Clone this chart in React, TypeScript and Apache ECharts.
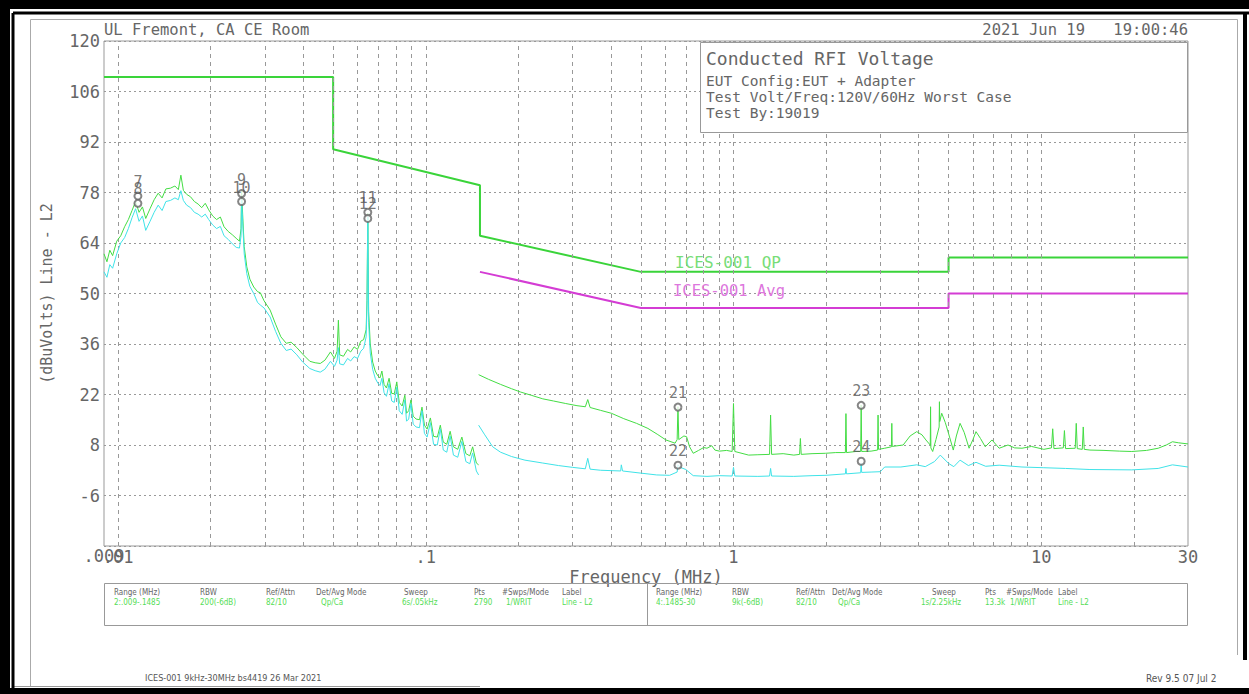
import React, { useEffect, useRef } from "react";
import * as echarts from "echarts";

// ---------- DATA ----------
const xTickFreqs = [0.009, 0.01, 0.1, 1, 10, 30];
const yTicks = [-20, -6, 8, 22, 36, 50, 64, 78, 92, 106, 120];
const gridFreqs = [
  0.01, 0.02, 0.03, 0.04, 0.05, 0.06, 0.07, 0.08, 0.09,
  0.1, 0.2, 0.3, 0.4, 0.5, 0.6, 0.7, 0.8, 0.9,
  1, 2, 3, 4, 5, 6, 7, 8, 9,
  10, 20,
];

const qpLimit: [number, number][] = [
  [0.009, 110], [0.05, 110], [0.05, 90], [0.15, 80], [0.15, 66],
  [0.5, 56], [5, 56], [5, 60], [30, 60],
];
const avgLimit: [number, number][] = [
  [0.15, 56], [0.5, 46], [5, 46], [5, 50], [30, 50],
];

const qpTrace1: [number, number][] = [
  [0.009, 61], [0.0092, 58.8], [0.0094, 62], [0.0096, 60.5], [0.0099, 64.5], [0.0102, 66],
  [0.0105, 68.5], [0.0108, 70.5], [0.0111, 73], [0.0114, 75.5], [0.0117, 72.5], [0.012, 74],
  [0.0123, 70.8], [0.0127, 73.5], [0.0131, 76], [0.0135, 77.8], [0.0139, 76.5], [0.0143, 79],
  [0.0148, 79.2], [0.0153, 79.8], [0.0157, 78.8], [0.016, 82.8], [0.0163, 78.6], [0.0167, 77.5],
  [0.0172, 76.8], [0.0177, 75.5], [0.0182, 74.8], [0.0187, 73.8], [0.0192, 75], [0.0197, 73.2],
  [0.0203, 71.5], [0.0209, 70.5], [0.0215, 71.2], [0.0221, 68.5], [0.0228, 67.2], [0.0235, 66.3],
  [0.0242, 65.3], [0.0248, 64.5], [0.0251, 68], [0.0252, 78.6], [0.0254, 72], [0.0257, 63],
  [0.0262, 57.4], [0.0268, 54], [0.0276, 51.8], [0.0284, 50.5], [0.029, 50.2], [0.0298, 48],
  [0.0312, 45.4], [0.0325, 41.5], [0.0338, 38], [0.0352, 36.2], [0.0365, 36.5], [0.0381, 35],
  [0.0398, 33.2], [0.042, 31.2], [0.0437, 30.8], [0.0454, 30.6], [0.047, 31.5], [0.049, 33.8],
  [0.0505, 32], [0.0515, 34], [0.052, 42.6], [0.0525, 33], [0.054, 32.6], [0.0557, 34.5],
  [0.057, 33.8], [0.0585, 35.2], [0.06, 34.5], [0.0615, 36.8], [0.0628, 37.2], [0.064, 40],
  [0.0644, 48], [0.0648, 72.3], [0.0652, 45], [0.066, 36], [0.0672, 31], [0.0685, 28.5],
  [0.0698, 27.2], [0.071, 26.6], [0.072, 28.5], [0.0732, 24.8], [0.0745, 23.8], [0.076, 26.5],
  [0.0775, 22.3], [0.079, 22.2], [0.0805, 25.5], [0.082, 19.8], [0.0838, 18.8], [0.0855, 21.8],
  [0.0866, 16.8], [0.088, 17.5], [0.0895, 20.5], [0.091, 16], [0.093, 15.2], [0.0954, 15],
  [0.0972, 18.5], [0.099, 13.5], [0.101, 12.4], [0.1035, 15.5], [0.106, 10.4], [0.109, 10.2],
  [0.1115, 13.5], [0.114, 8.8], [0.117, 8.2], [0.12, 11.8], [0.123, 7.5], [0.127, 6.8],
  [0.131, 10.2], [0.135, 5.6], [0.139, 5], [0.142, 7.5], [0.146, 3], [0.1485, 2.5],
];

const caTrace1: [number, number][] = [
  [0.009, 56], [0.0092, 54.5], [0.0094, 58], [0.0096, 57], [0.0099, 61], [0.0102, 64],
  [0.0105, 65.5], [0.0108, 68], [0.0111, 71], [0.0114, 73.5], [0.0117, 70], [0.012, 71.5],
  [0.0123, 67.5], [0.0127, 70], [0.0131, 72.5], [0.0135, 74.5], [0.0139, 73], [0.0143, 75.5],
  [0.0148, 75.8], [0.0153, 76.5], [0.0157, 76], [0.016, 78.5], [0.0163, 75.8], [0.0167, 74.5],
  [0.0172, 73.8], [0.0177, 72.5], [0.0182, 72], [0.0187, 71.2], [0.0192, 72], [0.0197, 70.5],
  [0.0203, 69], [0.0209, 68], [0.0215, 68.6], [0.0221, 66], [0.0228, 65], [0.0235, 63.8],
  [0.0242, 62.8], [0.0248, 62.6], [0.0251, 66], [0.0252, 76], [0.0254, 70], [0.0257, 61],
  [0.0262, 55.5], [0.0268, 52], [0.0276, 50], [0.0284, 47.5], [0.029, 46.8], [0.0298, 46],
  [0.0312, 43.5], [0.0325, 39.5], [0.0338, 36.2], [0.0352, 34.2], [0.0365, 34.6], [0.0381, 33],
  [0.0398, 31], [0.042, 29.2], [0.0437, 28.6], [0.0454, 28.2], [0.047, 29], [0.049, 31.2],
  [0.0505, 29.8], [0.0515, 31.5], [0.052, 35], [0.0525, 30.5], [0.054, 30.2], [0.0557, 32],
  [0.057, 31.3], [0.0585, 32.5], [0.06, 32], [0.0615, 34], [0.0628, 34.8], [0.064, 38],
  [0.0644, 46], [0.0648, 71.5], [0.0652, 42], [0.066, 33.5], [0.0672, 29], [0.0685, 26.5],
  [0.0698, 25.2], [0.071, 24.5], [0.072, 26.5], [0.0732, 22.5], [0.0745, 21.5], [0.076, 25],
  [0.0775, 20.2], [0.079, 19.8], [0.0805, 24], [0.082, 17.5], [0.0838, 16.5], [0.0855, 20.5],
  [0.0866, 14.6], [0.088, 15.2], [0.0895, 19.5], [0.091, 13.8], [0.093, 13], [0.0954, 12.8],
  [0.0972, 17.5], [0.099, 11.2], [0.101, 10.2], [0.1035, 14.2], [0.106, 8.2], [0.109, 8],
  [0.1115, 12.5], [0.114, 6.6], [0.117, 6], [0.12, 10.5], [0.123, 5.2], [0.127, 4.6],
  [0.131, 9], [0.135, 3.4], [0.139, 2.8], [0.142, 5.8], [0.146, 0.8], [0.1485, -0.3],
];

const qpTrace2: [number, number][] = [
  [0.1485, 27.5], [0.16, 26.2], [0.175, 24.8], [0.19, 23.6], [0.203, 22.7], [0.22, 21.8],
  [0.24, 20.8], [0.26, 20.2], [0.285, 19.5], [0.31, 18.9], [0.33, 18.6], [0.336, 20.6],
  [0.342, 18.4], [0.37, 17.6], [0.401, 16.8], [0.44, 15.3], [0.484, 14], [0.527, 12.6],
  [0.565, 11], [0.603, 9.4], [0.646, 8.5], [0.656, 9.5], [0.66, 18.6], [0.664, 9.5],
  [0.69, 10.5], [0.704, 10.3], [0.72, 7.5], [0.74, 5.7], [0.77, 6.5], [0.8, 7.3],
  [0.82, 7.1], [0.85, 7.8], [0.87, 6.6], [0.9, 6.3], [0.95, 6.5], [0.99, 6.2],
  [1.0, 19.5], [1.01, 6.2], [1.12, 5.2], [1.2, 5.3], [1.31, 5.4], [1.32, 16.3],
  [1.33, 5.4], [1.45, 5.6], [1.57, 5.2], [1.64, 5.4], [1.65, 9.8], [1.66, 5.4],
  [1.8, 5.6], [1.99, 5.7], [2.15, 5.9], [2.31, 5.9], [2.32, 16.7], [2.33, 5.9],
  [2.5, 6.2], [2.59, 6.2], [2.6, 19.1], [2.61, 6.2], [2.8, 6.3], [2.94, 6.6],
  [2.95, 16.3], [2.96, 6.8], [3.1, 7.1], [3.26, 7.5], [3.27, 14], [3.28, 7.6],
  [3.56, 8], [3.75, 10.5], [3.94, 11.7], [4.1, 10.8], [4.22, 9.4], [4.36, 8],
  [4.37, 18.6], [4.38, 7.2], [4.44, 6.2], [4.55, 9.5], [4.66, 13], [4.67, 20],
  [4.68, 14.5], [4.75, 16.8], [4.88, 14.2], [5.0, 11.2], [5.18, 6.6], [5.3, 10.5],
  [5.45, 14], [5.62, 11.5], [5.83, 7.1], [6.0, 9.5], [6.14, 11.7], [6.35, 9.8],
  [6.58, 7.5], [6.92, 9.4], [7.3, 7.1], [7.8, 8], [8.2, 7.2], [8.66, 7.1],
  [9.3, 7.6], [10.2, 6.8], [10.8, 7.2], [10.9, 12.5], [11.0, 7], [11.8, 7.2],
  [11.9, 12], [12, 7], [12.9, 7.1], [13, 14], [13.1, 7], [13.6, 6.8],
  [13.7, 13], [13.8, 6.8], [14.4, 6.6], [16, 6.5], [18, 6.3], [19.7, 6.2],
  [22, 6.5], [24.0, 7.1], [25.5, 8], [26.7, 8.9], [28, 8.6], [30, 8.3],
];

const caTrace2: [number, number][] = [
  [0.1485, 13.5], [0.155, 11], [0.165, 7.5], [0.175, 6], [0.19, 4.8], [0.21, 3.8],
  [0.24, 3], [0.27, 2.3], [0.3, 1.8], [0.33, 1.4], [0.336, 4.3], [0.342, 1.3],
  [0.37, 1], [0.43, 0.8], [0.432, 2.5], [0.436, 0.8], [0.5, 0.2], [0.563, -0.3],
  [0.62, -0.4], [0.656, 0.5], [0.66, 2.5], [0.672, 1.8], [0.7, 1.2], [0.74, -0.5],
  [0.82, -0.7], [0.9, -0.5], [0.99, -0.6], [1.0, 1.8], [1.01, -0.6], [1.2, -0.7],
  [1.31, -0.6], [1.32, 1.5], [1.33, -0.6], [1.57, -0.7], [1.8, -0.5], [2.0, -0.4],
  [2.31, 0], [2.32, 1.5], [2.33, 0], [2.59, 0.3], [2.6, 3], [2.61, 0.4],
  [2.8, 0.5], [3.0, 0.6], [3.1, 1.9], [3.5, 1.9], [3.94, 2.5], [4.2, 2.0],
  [4.5, 3.4], [4.7, 5.2], [5.0, 2.9], [5.2, 2], [5.45, 3.8], [5.8, 2.3],
  [6.14, 3.2], [6.6, 2.1], [7.3, 2.4], [8.66, 1.9], [10.2, 1.7], [12, 1.5],
  [14.4, 1.2], [19.7, 1.1], [24, 1.5], [26.7, 2.5], [30, 1.9],
];

const markerNames = ["7", "8", "9", "10", "11", "12", "21", "22", "23", "24"];
const markerFreqs = [0.0116, 0.0116, 0.0252, 0.0252, 0.0648, 0.0648, 0.66, 0.66, 2.6, 2.6];
const markerVals = [77, 75, 77.7, 75.5, 72.5, 70.8, 18.5, 2.4, 19, 3.5];

const headerLeft = "UL Fremont, CA CE Room";
const headerDate = "2021 Jun 19";
const headerTime = "19:00:46";
const infoTitle = "Conducted RFI Voltage";
const infoLines = ["EUT Config:EUT + Adapter", "Test Volt/Freq:120V/60Hz Worst Case", "Test By:19019"];
const tableHeads = ["Range (MHz)", "RBW", "Ref/Attn", "Det/Avg Mode", "Sweep", "Pts", "#Swps/Mode", "Label"];
const tableRow1 = ["2:.009-.1485", "200(-6dB)", "82/10", "Qp/Ca", "6s/.05kHz", "2790", "1/WRIT", "Line - L2"];
const tableRow2 = ["4:.1485-30", "9k(-6dB)", "82/10", "Qp/Ca", "1s/2.25kHz", "13.3k", "1/WRIT", "Line - L2"];
const footerLeft = "ICES-001 9kHz-30MHz bs4419 26 Mar 2021";
const footerRight = "Rev 9.5 07 Jul 2";
const limitQpLabel = "ICES-001 QP";
const limitAvgLabel = "ICES-001 Avg";

// ---------- STYLE ----------
const MONO = '"DejaVu Sans Mono", "Liberation Mono", monospace';
const NARROW = '"Liberation Sans Narrow", "DejaVu Sans Condensed", "Liberation Sans", sans-serif';
const TXT = "#666";
const GREEN_LIM = "#3ad43a";
const MAG_LIM = "#d43cd4";
const GREEN_TR = "#44dd44";
const CYAN_TR = "#3fe3e8";

const col1X = [114, 200, 266, 316, 404, 474, 502, 562];
const col1VX = [114, 200, 266, 321, 402, 474, 506, 562];
const col2X = [656, 732, 796, 832, 932, 985, 1006, 1058];
const col2VX = [656, 732, 796, 838, 921, 985, 1010, 1058];

function fmtFreq(v: number): string {
  const r = Number(Number(v).toPrecision(3));
  if (r < 1) return String(r).replace(/^0/, "");
  return String(r);
}

function txt(text: string, x: number, y: number, size: number, fill: string, family = MONO, align = "left", z = 20) {
  return {
    type: "text",
    x,
    y,
    z,
    silent: true,
    style: { text, fontSize: size, fontFamily: family, fill, align, verticalAlign: "middle" },
  };
}

export default function App() {
  const ref = useRef<HTMLDivElement>(null);

  useEffect(() => {
    document.body.style.margin = "0";
    if (!ref.current) return;
    const chart = echarts.init(ref.current, undefined, { renderer: "svg" });

    const graphics: any[] = [];
    // outer black frame
    graphics.push({ type: "rect", z: 30, shape: { x: 0, y: 0, width: 1249, height: 9 }, style: { fill: "#000" } });
    graphics.push({ type: "rect", z: 30, shape: { x: 0, y: 0, width: 10, height: 694 }, style: { fill: "#000" } });
    graphics.push({ type: "rect", z: 30, shape: { x: 0, y: 688, width: 1249, height: 6 }, style: { fill: "#000" } });
    graphics.push({ type: "line", z: 30, shape: { x1: 13, y1: 13, x2: 1249, y2: 13 }, style: { stroke: "#000", lineWidth: 3 } });
    graphics.push({ type: "line", z: 30, shape: { x1: 13, y1: 13, x2: 13, y2: 688 }, style: { stroke: "#000", lineWidth: 3 } });
    graphics.push({ type: "line", z: 30, shape: { x1: 1245, y1: 13, x2: 1245, y2: 660 }, style: { stroke: "#000", lineWidth: 4 } });
    // inner gray frame
    graphics.push({ type: "line", z: 5, shape: { x1: 30.5, y1: 19.5, x2: 1237.5, y2: 19.5 }, style: { stroke: "#aaa", lineWidth: 1 } });
    graphics.push({ type: "line", z: 5, shape: { x1: 30.5, y1: 19.5, x2: 30.5, y2: 686 }, style: { stroke: "#aaa", lineWidth: 1 } });
    graphics.push({ type: "line", z: 5, shape: { x1: 1237.5, y1: 19.5, x2: 1237.5, y2: 655 }, style: { stroke: "#aaa", lineWidth: 1 } });
    graphics.push({ type: "line", z: 5, shape: { x1: 14, y1: 686.5, x2: 480, y2: 686.5 }, style: { stroke: "#999", lineWidth: 1 } });

    // header
    graphics.push(txt(headerLeft, 104, 30, 15.5, TXT));
    graphics.push(txt(headerDate, 1085, 30, 15.5, TXT, MONO, "right"));
    graphics.push(txt(headerTime, 1188, 30, 15.5, TXT, MONO, "right"));

    // min x tick label (overlaps the .01 label as in the reference)
    graphics.push(txt(fmtFreq(xTickFreqs[0]), 104, 556, 17, TXT, MONO, "center", 3));

    // info box
    graphics.push({ type: "rect", z: 15, shape: { x: 700.5, y: 42.5, width: 487, height: 90 }, style: { fill: "#fff", stroke: "#999", lineWidth: 1 } });
    graphics.push(txt(infoTitle, 706, 58, 18, TXT));
    infoLines.forEach((l, i) => graphics.push(txt(l, 706, 81 + i * 16, 14.5, TXT)));

    // limit labels
    graphics.push(txt(limitQpLabel, 675, 262, 16, "#77dd77"));
    graphics.push(txt(limitAvgLabel, 673, 291, 15.5, "#dd77dd"));

    // bottom table
    graphics.push({ type: "rect", z: 5, shape: { x: 104.5, y: 583.5, width: 1083, height: 42 }, style: { fill: "none", stroke: "#999", lineWidth: 1 } });
    graphics.push({ type: "line", z: 5, shape: { x1: 647.5, y1: 583.5, x2: 647.5, y2: 625.5 }, style: { stroke: "#999", lineWidth: 1 } });
    tableHeads.forEach((h, i) => {
      graphics.push(txt(h, col1X[i], 592, 8, "#666", NARROW));
      graphics.push(txt(h, col2X[i], 592, 8, "#666", NARROW));
    });
    tableRow1.forEach((v, i) => graphics.push(txt(v, col1VX[i], 602, 8, "#55dd55", NARROW)));
    tableRow2.forEach((v, i) => graphics.push(txt(v, col2VX[i], 602, 8, "#55dd55", NARROW)));

    // footer
    graphics.push(txt(footerLeft, 145, 678, 9, "#555", NARROW));
    graphics.push(txt(footerRight, 1146, 678, 10, "#555", NARROW));

    const lineSeries = (name: string, data: [number, number][], color: string, width: number, z: number) => ({
      name,
      type: "line",
      data,
      symbol: "none",
      showSymbol: false,
      lineStyle: { color, width },
      itemStyle: { color },
      z,
      silent: true,
    });

    const option: any = {
      animation: false,
      backgroundColor: "#fff",
      grid: { left: 104, right: 61, top: 41, bottom: 148, show: true, borderColor: "#999", borderWidth: 1, backgroundColor: "transparent" },
      xAxis: {
        type: "log",
        logBase: 10,
        min: xTickFreqs[0],
        max: xTickFreqs[xTickFreqs.length - 1],
        axisLine: { show: false },
        axisTick: { show: false },
        splitLine: { show: false },
        axisLabel: {
          show: true,
          showMinLabel: false,
          showMaxLabel: true,
          color: TXT,
          fontSize: 17,
          fontFamily: MONO,
          margin: 2,
          formatter: (v: number) => fmtFreq(v),
        },
        name: "Frequency (MHz)",
        nameLocation: "middle",
        nameGap: 22,
        nameMoveOverlap: false,
        nameTextStyle: { color: TXT, fontSize: 17, fontFamily: MONO },
      },
      yAxis: {
        type: "value",
        min: yTicks[0],
        max: yTicks[yTicks.length - 1],
        interval: yTicks[1] - yTicks[0],
        axisLine: { show: false },
        axisTick: { show: false },
        splitLine: { show: true, lineStyle: { color: "#999", type: [2, 3], width: 1 } },
        axisLabel: {
          color: TXT,
          fontSize: 17,
          fontFamily: MONO,
          margin: 4,
          formatter: (v: number) => (v === yTicks[0] ? "" : String(v)),
        },
        name: "(dBuVolts) Line - L2",
        nameLocation: "middle",
        nameGap: 50,
        nameMoveOverlap: false,
        nameTextStyle: { color: TXT, fontSize: 15, fontFamily: MONO },
      },
      graphic: { elements: graphics },
      series: [
        {
          type: "line",
          data: [[xTickFreqs[0], yTicks[0]]],
          symbol: "none",
          lineStyle: { width: 0, opacity: 0 },
          z: 1,
          silent: true,
          markLine: {
            silent: true,
            symbol: ["none", "none"],
            label: { show: false },
            lineStyle: { color: "#999", type: [4, 4], width: 1 },
            data: gridFreqs.map((f) => ({ xAxis: f })),
          },
        },
        lineSeries("QP limit", qpLimit, GREEN_LIM, 2, 4),
        lineSeries("Avg limit", avgLimit, MAG_LIM, 2, 4),
        lineSeries("QP 1", qpTrace1, GREEN_TR, 1, 5),
        lineSeries("QP 2", qpTrace2, GREEN_TR, 1, 5),
        lineSeries("CA 1", caTrace1, CYAN_TR, 1, 6),
        lineSeries("CA 2", caTrace2, CYAN_TR, 1, 6),
        {
          name: "Markers",
          type: "scatter",
          z: 8,
          silent: true,
          symbol: "emptyCircle",
          symbolSize: 7,
          itemStyle: { color: "#666", borderColor: "#666", borderWidth: 1.2 },
          label: {
            show: true,
            position: "top",
            distance: 2,
            formatter: (p: any) => p.name,
            color: "#555",
            fontSize: 15,
            fontFamily: MONO,
          },
          data: markerNames.map((n, i) => ({ name: n, value: [markerFreqs[i], markerVals[i]] })),
        },
      ],
    };

    chart.setOption(option);
    return () => chart.dispose();
  }, []);

  return (
    <div
      ref={ref}
      style={{ position: "absolute", left: 0, top: 0, width: 1249, height: 694, background: "#fff" }}
    />
  );
}
